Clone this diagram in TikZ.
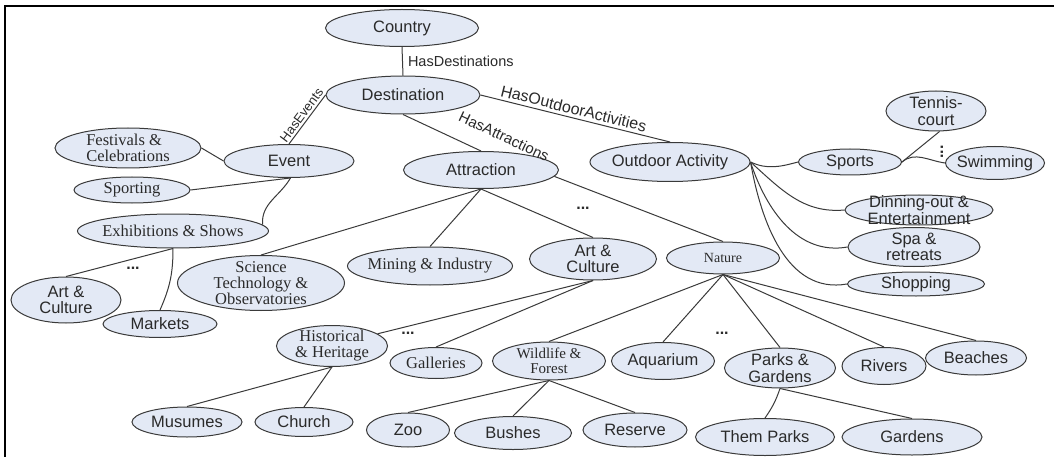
\documentclass[tikz,border=0pt]{standalone}
\usepackage{fontspec}
\setmainfont{Liberation Serif}
\setsansfont{Liberation Sans}
\usetikzlibrary{shapes.geometric}
\definecolor{fl}{HTML}{E3E9F5}
\definecolor{bd}{HTML}{3A3A3A}
\definecolor{lnc}{HTML}{3A3A3A}
\definecolor{tx}{HTML}{2A2A2A}
\tikzset{
  el/.style 2 args={ellipse, draw=bd, fill=fl, line width=1pt, minimum width=#1pt, minimum height=#2pt, inner sep=0pt},
  sf/.style={font=\sffamily\fontsize{16.5}{16.5}\selectfont, text=tx, align=center, inner sep=0pt},
  rm/.style={font=\rmfamily\fontsize{16.5}{16}\selectfont, text=tx, align=center, inner sep=0pt},
  rms/.style={font=\rmfamily\fontsize{15}{15}\selectfont, text=tx, align=center, inner sep=0pt},
  lab/.style={font=\sffamily\fontsize{14.5}{14.5}\selectfont, text=tx, inner sep=1pt},
  ln/.style={draw=lnc, line width=1pt},
  dotsn/.style={font=\sffamily\bfseries\fontsize{16}{16}\selectfont, text=tx, inner sep=0pt}
}
\begin{document}
\begin{tikzpicture}[x=1pt,y=-1pt]
\useasboundingbox[fill=white] (0,0) rectangle (1054,457);
\draw[line width=1.6pt] (5,457) -- (5,6) -- (1054,6);
% nodes
\node[el={153}{37}, label={[sf]center:Country}] (country) at (402,28) {};
\node[el={154}{38}, label={[sf]center:Destination}] (dest) at (403,95) {};
\node[el={130}{33}, label={[sf]center:Event}] (event) at (289,161) {};
\node[el={146}{40}, label={[rm,align=left]center:Festivals \&\\Celebrations}] (fest) at (128,148) {};
\node[el={116}{26}, label={[rm]center:Sporting}] (sporting) at (132,190) {};
\node[el={191}{34}, label={[rm]center:Exhibitions \& Shows}] (exhib) at (173,231) {};
\node[el={110}{46}, label={[sf]center:Art \&\\Culture}] (artL) at (66,300) {};
\node[el={114}{27}, label={[sf]center:Markets}] (markets) at (160,324) {};
\node[el={167}{55}, label={[rm]center:Science\\Technology \&\\Observatories}] (sci) at (261,283) {};
\node[el={165}{38}, label={[rm]center:Mining \& Industry}] (mining) at (430,266) {};
\node[el={155}{37}, label={[sf]center:Attraction}] (attr) at (481,170) {};
\node[el={127}{42}, label={[sf]center:Art \&\\Culture}] (artC) at (593,259) {};
\node[el={113}{32}, label={[rm,font=\rmfamily\fontsize{14}{14}\selectfont]center:Nature}] (nature) at (723,258) {};
\node[el={160}{39}, label={[sf]center:Outdoor Activity}] (outdoor) at (670,162) {};
\node[el={103}{26}, label={[sf]center:Sports}] (sports) at (850,162) {};
\node[el={100}{40}, label={[sf]center:Tennis-\\court}] (tennis) at (936,111) {};
\node[el={99}{33}, label={[sf]center:Swimming}] (swim) at (995,163) {};
\node[el={148}{30}, label={[sf]center:Dinning-out \&\\Entertainment}] (dinning) at (919,210) {};
\node[el={132}{39}, label={[sf]center:Spa \&\\retreats}] (spa) at (914,247) {};
\node[el={137}{24}, label={[sf]center:Shopping}] (shopping) at (916,284) {};
\node[el={111}{41}, label={[rm]center:Historical\\\& Heritage}] (hist) at (332,346) {};
\node[el={92}{31}, label={[rm]center:Galleries}] (gall) at (436,363) {};
\node[el={113}{38}, label={[rms]center:Wildlife \&\\Forest}] (wild) at (549,361) {};
\node[el={103}{37}, label={[sf]center:Aquarium}] (aqua) at (663,361) {};
\node[el={111}{40}, label={[sf]center:Parks \&\\Gardens}] (parks) at (780,368) {};
\node[el={84}{37}, label={[sf]center:Rivers}] (rivers) at (884,366) {};
\node[el={101}{34}, label={[sf]center:Beaches}] (beaches) at (976,358) {};
\node[el={110}{30}, label={[sf]center:Musumes}] (mus) at (187,422) {};
\node[el={98}{29}, label={[sf]center:Church}] (church) at (304,422) {};
\node[el={83}{34}, label={[sf]center:Zoo}] (zoo) at (408,430) {};
\node[el={117}{33}, label={[sf]center:Bushes}] (bushes) at (513,433) {};
\node[el={104}{34}, label={[sf]center:Reserve}] (reserve) at (635,430) {};
\node[el={139}{37}, label={[sf]center:Them Parks}] (them) at (765,437) {};
\node[el={140}{36}, label={[sf]center:Gardens}] (gardens) at (912,437) {};
% connectors
\draw[ln] (country.south) -- (dest.north) node[pos=0.5, right=4pt, lab]{HasDestinations};
\draw[ln] (event.north) -- (dest.west) node[pos=0.5, sloped, above=1pt, lab, font=\sffamily\fontsize{13}{13}\selectfont]{HasEvents};
\draw[ln] (dest.south) -- (attr.north) node[pos=1.17, sloped, above=16pt, lab, font=\sffamily\fontsize{15}{15}\selectfont]{HasAttractions};
\draw[ln] (dest.east) -- (outdoor.north) node[pos=0.48, sloped, above=2pt, lab, font=\sffamily\fontsize{16}{16}\selectfont]{HasOutdoorActivities};
\draw[ln] (fest.east) -- (event.west);
\draw[ln] (event.-85) -- (sporting.east);
\draw[ln] (event.-85) to[out=-120, in=95] (exhib.4);
\draw[ln] (exhib.south) -- (artL.north);
\draw[ln] (exhib.south) to[bend left=12] (markets.north);
\draw[ln] (attr.south) -- (sci.north);
\draw[ln] (attr.south) -- (mining.north);
\draw[ln] (attr.south) -- (artC.north);
\draw[ln] (attr.-5) -- (nature.north);
\draw[ln] (artC.south) -- (hist.15);
\draw[ln] (artC.south) -- (gall.north);
\draw[ln] (hist.south) -- (mus.north);
\draw[ln] (hist.south) -- (church.north);
\foreach \t in {wild,aqua,parks,rivers,beaches} \draw[ln] (nature.south) -- (\t.north);
\foreach \t in {zoo,bushes,reserve} \draw[ln] (wild.south) -- (\t.north);
\draw[ln] (parks.south) to[bend left=8] (them.north);
\draw[ln] (parks.south) -- (gardens.north);
\draw[ln] (outdoor.east) to[out=-25, in=195] (sports.west);
\draw[ln] (outdoor.east) to[out=-42, in=185] (dinning.west);
\draw[ln] (outdoor.east) to[out=-72, in=190] (spa.west);
\draw[ln] (outdoor.east) to[out=-80, in=190] (shopping.west);
\draw[ln] (sports.east) -- (tennis.-80);
\draw[ln] (sports.east) to[out=40, in=172] (swim.west);
% ellipsis marks
\node[dotsn] (d1) at (133,268) {...};
\node[dotsn] (d2) at (583,208) {...};
\node[dotsn] (d3) at (408,333) {...};
\node[dotsn] (d4) at (722,333) {...};
\node[dotsn, rotate=90] (d5) at (942,152) {...};
\end{tikzpicture}
\end{document}
